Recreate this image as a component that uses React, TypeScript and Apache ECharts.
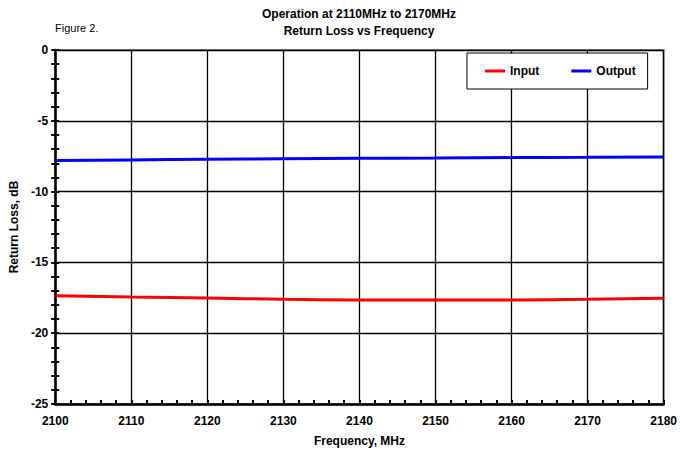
import React, { useEffect, useRef } from "react";
import * as echarts from "echarts";

const frequencies = [2100, 2110, 2120, 2130, 2140, 2150, 2160, 2170, 2180];
const inputLoss = [-17.35, -17.45, -17.52, -17.6, -17.65, -17.66, -17.65, -17.6, -17.53];
const outputLoss = [-7.8, -7.76, -7.72, -7.68, -7.65, -7.63, -7.6, -7.58, -7.55];
const titleLines = ["Operation at 2110MHz to 2170MHz", "Return Loss vs Frequency"];

export default function App() {
  const ref = useRef<HTMLDivElement>(null);
  useEffect(() => {
    if (!ref.current) return;
    const chart = echarts.init(ref.current, null, { renderer: "svg" });
    const font = "Liberation Sans, Arial, sans-serif";
    const pair = (vals: number[]) => frequencies.map((f, i) => [f, vals[i]]);
    chart.setOption({
      animation: false,
      backgroundColor: "#fff",
      textStyle: { fontFamily: font },
      title: [
        {
          text: titleLines.join("\n"),
          left: 359,
          top: 5,
          padding: 0,
          textAlign: "center",
          textStyle: { fontSize: 12, fontWeight: "bold", color: "#000", lineHeight: 17, fontFamily: font },
        },
        {
          text: "Figure 2.",
          left: 55,
          top: 22,
          padding: 0,
          textStyle: { fontSize: 11, fontWeight: "normal", color: "#000", fontFamily: font },
        },
      ],
      legend: {
        left: 467,
        top: 53,
        orient: "horizontal",
        padding: [12, 12, 12, 18],
        itemGap: 32,
        itemWidth: 20,
        itemHeight: 3,
        borderColor: "#000",
        borderWidth: 1,
        backgroundColor: "#fff",
        textStyle: { fontSize: 12, fontWeight: "bold", color: "#000", fontFamily: font },
        data: [
          { name: "Input", icon: "rect" },
          { name: "Output", icon: "rect" },
        ],
      },
      grid: {
        left: 53,
        right: 14,
        top: 50,
        bottom: 48,
        show: true,
        borderColor: "#888",
        borderWidth: 2,
        backgroundColor: "#fff",
      },
      xAxis: {
        type: "value",
        min: 2100,
        max: 2180,
        interval: 10,
        name: "Frequency, MHz",
        nameLocation: "middle",
        nameGap: 31,
        nameTextStyle: { fontSize: 12, fontWeight: "bold", color: "#000", fontFamily: font },
        axisLine: { onZero: false, lineStyle: { color: "#000", width: 2.5 } },
        axisTick: { show: true, inside: true, length: 4, lineStyle: { color: "#000", width: 2 } },
        minorTick: { show: true, splitNumber: 5, length: 4, lineStyle: { color: "#000", width: 2 } },
        axisLabel: {
          fontSize: 12,
          fontWeight: "bold",
          color: "#000",
          margin: 11,
          fontFamily: font,
          formatter: (v: number) => String(v),
        },
        splitLine: { show: true, lineStyle: { color: "#000", width: 1.3 } },
      },
      yAxis: [
        {
          type: "value",
          min: -25,
          max: 0,
          interval: 5,
          name: "Return Loss, dB",
          nameLocation: "middle",
          nameGap: 34,
          nameTextStyle: { fontSize: 12, fontWeight: "bold", color: "#000", fontFamily: font },
          axisLine: { show: true, onZero: false, lineStyle: { color: "#000", width: 2.5 } },
          axisTick: { show: true, inside: false, length: 4, lineStyle: { color: "#000", width: 2 } },
          minorTick: { show: true, splitNumber: 5, length: 4, lineStyle: { color: "#000", width: 2 } },
          axisLabel: { fontSize: 12, fontWeight: "bold", color: "#000", margin: 7, fontFamily: font },
          splitLine: { show: true, lineStyle: { color: "#000", width: 1.3 } },
        },
        {
          type: "value",
          min: -25,
          max: 0,
          interval: 5,
          position: "left",
          offset: 0,
          axisLine: { show: false, onZero: false },
          axisTick: { show: true, inside: true, length: 4, lineStyle: { color: "#000", width: 2 } },
          minorTick: { show: true, splitNumber: 5, length: 4, lineStyle: { color: "#000", width: 2 } },
          axisLabel: { show: false },
          splitLine: { show: false },
        },
      ],
      series: [
        {
          name: "Input",
          type: "line",
          data: pair(inputLoss),
          smooth: true,
          showSymbol: false,
          lineStyle: { color: "#ff0000", width: 3 },
          itemStyle: { color: "#ff0000" },
        },
        {
          name: "Output",
          type: "line",
          data: pair(outputLoss),
          smooth: true,
          showSymbol: false,
          lineStyle: { color: "#0000ff", width: 3 },
          itemStyle: { color: "#0000ff" },
        },
      ],
    });
    return () => chart.dispose();
  }, []);
  return <div ref={ref} style={{ width: 680, height: 452, position: "absolute", left: 0, top: 0 }} />;
}
